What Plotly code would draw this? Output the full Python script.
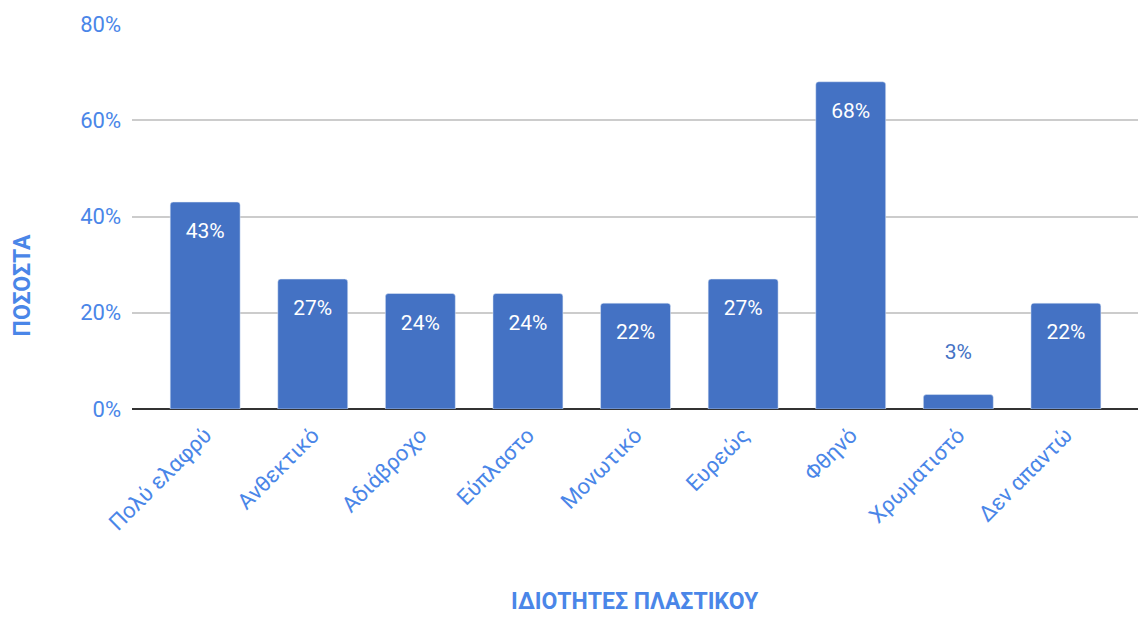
import plotly.graph_objects as go

categories = ['Πολύ ελαφρύ', 'Ανθεκτικό', 'Αδιάβροχο', 'Εύπλαστο', 'Μονωτικό',
              'Ευρεώς', 'Φθηνό', 'Χρωματιστό', 'Δεν απαντώ']
percent = [43, 27, 24, 24, 22, 27, 68, 3, 22]

bar_color = '#4472C4'
label_blue = '#4A86E8'
font = 'Roboto, Arial, sans-serif'

# small bars get the label above the bar, the rest inside at the top
spacer = '<span style="font-size:7px"> </span><br>'
positions = ['outside' if v < 8 else 'inside' for v in percent]
labels = [f'{v}%<br> ' if v < 8 else f'{spacer}{v}%' for v in percent]

fig = go.Figure(go.Bar(
    x=categories, y=percent,
    marker=dict(color=bar_color, cornerradius=3),
    text=labels, textposition=positions, insidetextanchor='end',
    insidetextfont=dict(color='white', size=21, family=font),
    outsidetextfont=dict(color=bar_color, size=21, family=font),
    cliponaxis=False, hoverinfo='skip',
))

fig.update_layout(
    width=1141, height=618,
    margin=dict(l=132, r=3, t=24, b=209),
    plot_bgcolor='white', paper_bgcolor='white',
    bargap=0.35, showlegend=False,
    font=dict(family=font, size=22, color=label_blue),
    xaxis=dict(tickangle=-45, tickfont=dict(size=22, color=label_blue),
               range=[-0.68, len(categories) - 1 + 0.67],
               showgrid=False, ticks='', showline=False, automargin=False,
               ticklabelstandoff=8),
    yaxis=dict(range=[0, 80], dtick=20, ticksuffix='%',
               tickfont=dict(size=22, color=label_blue),
               gridcolor='#CCCCCC', gridwidth=1.5,
               zeroline=True, zerolinecolor='#333333', zerolinewidth=2,
               ticks='', ticklabelstandoff=10, automargin=False),
    annotations=[
        dict(text='<b>ΙΔΙΟΤΗΤΕΣ ΠΛΑΣΤΙΚΟΥ</b>', xref='paper', yref='paper',
             x=0.5, y=-0.5, showarrow=False, yanchor='middle',
             font=dict(size=23, color=label_blue, family=font)),
        dict(text='<b>ΠΟΣΟΣΤΑ</b>', xref='paper', yref='paper',
             x=-0.109, y=0.322, showarrow=False, textangle=-90,
             xanchor='center', yanchor='middle',
             font=dict(size=23, color=label_blue, family=font)),
    ],
)

# drop the browser's default page margin so the figure sits at the corner
fig.write_html('out.html', config={'displayModeBar': False},
               post_script="document.body.style.margin='0';")
